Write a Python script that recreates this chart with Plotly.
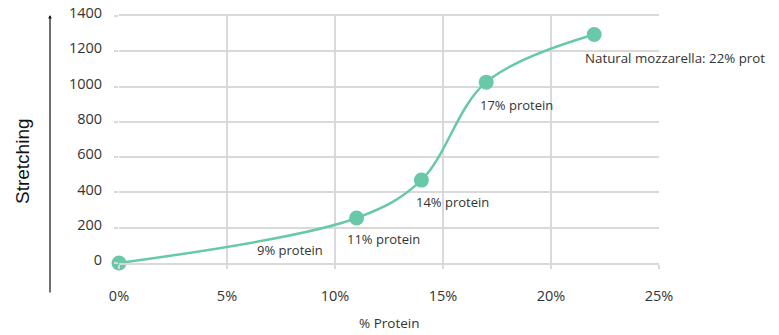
import plotly.graph_objects as go

protein_pct = [0, 11, 14, 17, 22]
stretching = [0, 255, 470, 1025, 1295]

label_texts = ["9% protein", "11% protein", "14% protein", "17% protein"]
label_x = [7.9, 12.25, 15.45, 18.4]
label_y = [74, 136, 347, 898]
end_label = "Natural mozzarella: 22% prot"

x_tickvals = [0, 5, 10, 15, 20, 25]
x_ticktext = ["0%", "5%", "10%", "15%", "20%", "25%"]
y_tickvals = [0, 200, 400, 600, 800, 1000, 1200, 1400]

LINE = "#68C8A8"
GRID = "#D9D9D9"
TXT = "#333333"
FONT = "Open Sans"

fig = go.Figure()
fig.add_trace(go.Scatter(
    x=protein_pct, y=stretching, mode="lines+markers",
    line=dict(color=LINE, width=2.5, shape="spline", smoothing=1.0),
    marker=dict(color=LINE, size=15),
    cliponaxis=False, showlegend=False, hoverinfo="skip",
))

for t, x, y in zip(label_texts, label_x, label_y):
    fig.add_annotation(x=x, y=y, text=t, showarrow=False,
                       font=dict(family=FONT, size=13, color=TXT))

fig.add_annotation(x=protein_pct[-1], y=stretching[-1], text=end_label, showarrow=False,
                   xanchor="left", xshift=-11, yshift=-23,
                   font=dict(family=FONT, size=13.3, color=TXT))

# x-axis title
fig.add_annotation(xref="paper", yref="paper", x=0.5, y=(263 - 323) / 247,
                   xanchor="center", yanchor="middle",
                   text="% Protein", showarrow=False,
                   font=dict(family=FONT, size=13.5, color=TXT))

# y-axis title (rotated) and arrow
fig.add_annotation(xref="paper", yref="paper", x=(22 - 119) / 540, y=(263 - 161) / 247,
                   xanchor="center", yanchor="middle",
                   text="Stretching", textangle=-90, showarrow=False,
                   font=dict(family="Liberation Sans", size=19, color="#111111"))
fig.add_annotation(xref="paper", yref="paper", x=(50 - 119) / 540, y=(263 - 15) / 247,
                   ax=0, ay=279, text="", showarrow=True, arrowhead=2, arrowsize=0.6,
                   arrowwidth=1.2, arrowcolor="#111111")

fig.update_layout(
    width=779, height=335,
    margin=dict(l=119, r=120, t=16, b=72, autoexpand=False),
    paper_bgcolor="white", plot_bgcolor="white",
    font=dict(family=FONT, size=14.5, color=TXT),
    xaxis=dict(range=[0, 25], tickvals=x_tickvals, ticktext=x_ticktext,
               showgrid=True, gridcolor=GRID, gridwidth=1.5, zeroline=False,
               showline=True, mirror=True, linecolor=GRID, linewidth=1.5,
               ticks="outside", ticklen=4, tickcolor=GRID, tickwidth=1.5,
               ticklabelstandoff=15, automargin=False, ticklabeloverflow="allow"),
    yaxis=dict(range=[0, 1400], tickvals=y_tickvals,
               showgrid=True, gridcolor=GRID, gridwidth=1.5, zeroline=False,
               ticks="outside", ticklen=4, tickcolor=GRID, tickwidth=1.5,
               ticklabelstandoff=9, ticklabelshift=-3, showline=False, automargin=False,
               ticklabeloverflow="allow"),
)

fig.write_html("out.html", config={"displayModeBar": False},
               post_script="document.body.style.margin='0';document.body.style.overflow='hidden';")
